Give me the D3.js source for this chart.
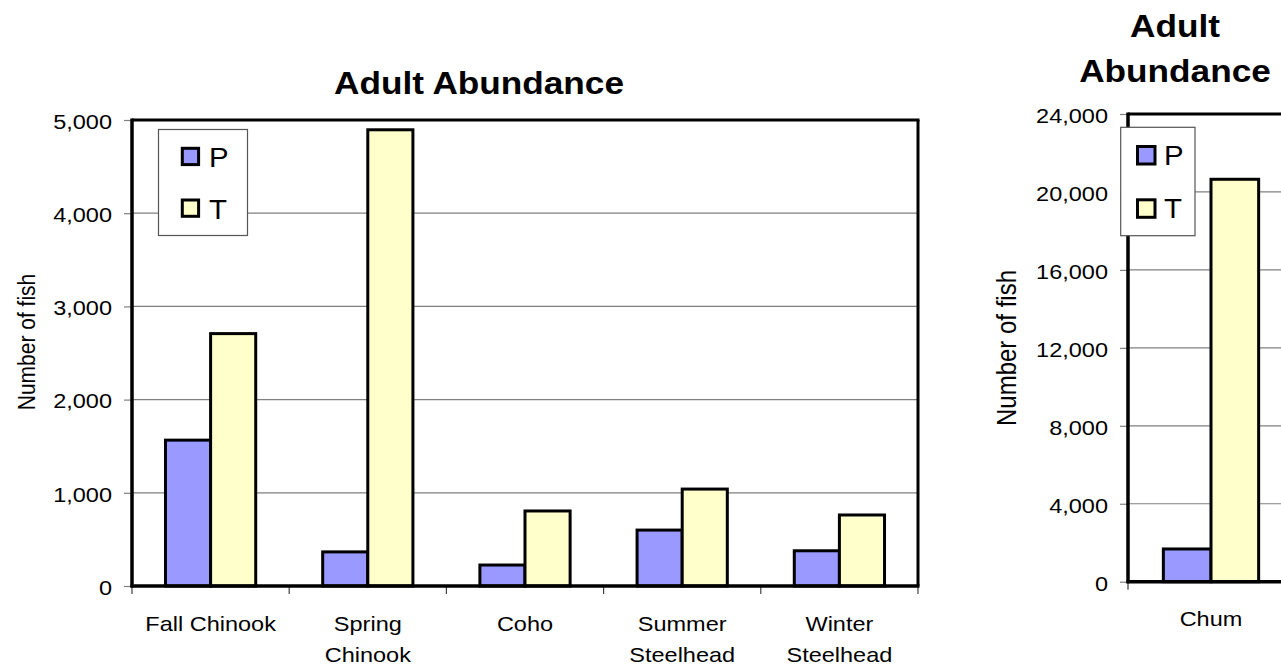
<!DOCTYPE html>
<html><head><meta charset="utf-8">
<script src="https://cdn.jsdelivr.net/npm/d3@7"></script>
<style>
html,body{margin:0;padding:0;background:#fff;overflow:hidden}
svg{display:block;font-family:Arial,"Liberation Sans",sans-serif}
</style>
</head><body>
<svg id="c" width="1281" height="666"></svg>
<script>
// ---- data ----
const series = ["P", "T"];
const seriesColors = ["#9999FF", "#FFFFCC"];
const chartTitle = "Adult Abundance";
const yAxisTitle = "Number of fish";

const leftCategories = ["Fall Chinook", "Spring Chinook", "Coho", "Summer Steelhead", "Winter Steelhead"];
const leftP = [1565, 366, 225, 600, 378];
const leftT = [2708, 4895, 805, 1040, 762];
const leftTicks = [0, 1000, 2000, 3000, 4000, 5000];

const rightCategories = ["Chum"];
const rightP = [1680];
const rightT = [20650];
const rightTicks = [0, 4000, 8000, 12000, 16000, 20000, 24000];

// ---- drawing ----
const S = 1.12; // horizontal text stretch
const svg = d3.select("#c");
svg.append("rect").attr("width", 1281).attr("height", 666).attr("fill", "#fff");
const fmt = d3.format(",");

function drawChart(cfg) {
  const g = svg.append("g");
  const x0 = d3.scaleBand().domain(cfg.categories).range([cfg.left, cfg.right]);
  const bw = x0.bandwidth();
  const pad = bw * 0.213;
  const x1 = d3.scaleBand().domain(series).range([pad, bw - pad]);
  const y = d3.scaleLinear().domain([0, d3.max(cfg.ticks)]).range([cfg.bottom, cfg.top]);

  // gridlines
  g.append("g").selectAll("line")
    .data(cfg.ticks.filter(t => t > 0 && t < d3.max(cfg.ticks)))
    .join("line")
    .attr("x1", cfg.left).attr("x2", cfg.right)
    .attr("y1", d => y(d)).attr("y2", d => y(d))
    .attr("stroke", "#808080").attr("stroke-width", 1.2);

  // y axis ticks + labels
  const ya = g.append("g").attr("transform", `translate(${cfg.left},0)`)
    .call(d3.axisLeft(y).tickValues(cfg.ticks).tickSize(8).tickFormat(fmt));
  ya.attr("font-family", null).attr("font-size", null);
  ya.select(".domain").remove();
  ya.selectAll(".tick line").attr("stroke", "#808080").attr("stroke-width", 1.2);
  ya.selectAll(".tick text")
    .attr("x", null).attr("dy", "0.35em")
    .attr("font-size", 21).attr("fill", "#000").attr("text-anchor", "end")
    .attr("transform", `translate(-20,1) scale(${S},1)`);

  // bars
  const rows = cfg.categories.map((c, i) => ({ cat: c, values: [cfg.P[i], cfg.T[i]] }));
  const grp = g.append("g").selectAll("g").data(rows).join("g")
    .attr("transform", d => `translate(${x0(d.cat)},0)`);
  grp.selectAll("rect")
    .data(d => d.values.map((v, j) => ({ s: series[j], v, j })))
    .join("rect")
    .attr("x", d => x1(d.s)).attr("width", x1.bandwidth())
    .attr("y", d => y(d.v)).attr("height", d => cfg.bottom - y(d.v))
    .attr("fill", d => seriesColors[d.j])
    .attr("stroke", "#000").attr("stroke-width", 3);

  // plot border (top/right)
  g.append("line").attr("x1", cfg.left).attr("x2", cfg.right + 1.5)
    .attr("y1", cfg.top).attr("y2", cfg.top).attr("stroke", "#000").attr("stroke-width", 3);
  g.append("line").attr("x1", cfg.right).attr("x2", cfg.right)
    .attr("y1", cfg.top).attr("y2", cfg.bottom).attr("stroke", "#000").attr("stroke-width", 3);

  // category boundary ticks
  const bounds = cfg.categories.map(c => x0(c)).concat([cfg.right]);
  g.append("g").selectAll("line").data(bounds).join("line")
    .attr("x1", d => d).attr("x2", d => d)
    .attr("y1", cfg.bottom).attr("y2", cfg.bottom + 8)
    .attr("stroke", "#404040").attr("stroke-width", 1.2);

  // axis lines
  g.append("line").attr("x1", cfg.left).attr("x2", cfg.left)
    .attr("y1", cfg.top - 1.5).attr("y2", cfg.bottom + 1.5).attr("stroke", "#000").attr("stroke-width", 3.5);
  g.append("line").attr("x1", cfg.left - 1.5).attr("x2", cfg.right + 1.5)
    .attr("y1", cfg.bottom).attr("y2", cfg.bottom).attr("stroke", "#000").attr("stroke-width", 3.5);

  // category labels (wrapped)
  const maxW = bw - 8;
  cfg.categories.forEach(c => {
    const cx = x0(c) + bw / 2;
    const words = c.split(" ");
    const lines = [];
    let cur = [];
    const probe = g.append("text").attr("font-size", 21);
    words.forEach(w => {
      const test = cur.concat([w]).join(" ");
      probe.text(test);
      if (cur.length && probe.node().getComputedTextLength() * S > maxW) {
        lines.push(cur.join(" "));
        cur = [w];
      } else cur.push(w);
    });
    lines.push(cur.join(" "));
    probe.remove();
    lines.forEach((ln, k) => {
      g.append("text").text(ln)
        .attr("font-size", 21).attr("fill", "#000").attr("text-anchor", "middle")
        .attr("transform", `translate(${cx},${cfg.bottom + 44.5 + k * 31.5}) scale(${S},1)`);
    });
  });

  // title
  cfg.titleLines.forEach((t, k) => {
    g.append("text").text(t)
      .attr("font-size", 32).attr("font-weight", "bold").attr("fill", "#000")
      .attr("text-anchor", "middle")
      .attr("transform", `translate(${cfg.titleX},${cfg.titleY[k]}) scale(1.1,1)`);
  });

  // y axis title
  g.append("text").text(yAxisTitle)
    .attr("font-size", cfg.yTitleSize).attr("fill", "#000").attr("text-anchor", "middle")
    .attr("transform", `translate(${cfg.yTitleX},${cfg.yTitleY}) scale(${S},1) rotate(-90)`);

  // legend
  const L = cfg.legend;
  const lg = g.append("g");
  lg.append("rect").attr("x", L.x).attr("y", L.y).attr("width", L.w).attr("height", L.h)
    .attr("fill", "#fff").attr("stroke", "#555").attr("stroke-width", 1.2);
  series.forEach((s, j) => {
    lg.append("rect").attr("x", L.sx).attr("y", L.sy[j]).attr("width", L.ss).attr("height", L.ss)
      .attr("fill", seriesColors[j]).attr("stroke", "#000").attr("stroke-width", 3);
    lg.append("text").text(s).attr("font-size", 28).attr("fill", "#000")
      .attr("transform", `translate(${L.tx},${L.ty[j]}) scale(1.05,1)`);
  });
}

drawChart({
  categories: leftCategories, P: leftP, T: leftT, ticks: leftTicks,
  left: 132, right: 918, top: 120, bottom: 586,
  titleLines: [chartTitle], titleX: 479, titleY: [93.5],
  yTitleX: 35, yTitleY: 342, yTitleSize: 21,
  legend: { x: 158.5, y: 129.5, w: 89, h: 106, sx: 182.3, sy: [148.3, 200], ss: 16.3, tx: 209, ty: [166.5, 218.5] }
});

drawChart({
  categories: rightCategories, P: rightP, T: rightT, ticks: rightTicks,
  left: 1128, right: 1294, top: 114, bottom: 581.7,
  titleLines: ["Adult", "Abundance"], titleX: 1175, titleY: [37, 82],
  yTitleX: 1016, yTitleY: 348, yTitleSize: 24,
  legend: { x: 1120.7, y: 127.3, w: 74.3, h: 108.4, sx: 1137.5, sy: [146.5, 199.8], ss: 17.5, tx: 1164, ty: [165, 218] }
});
</script>
</body></html>
